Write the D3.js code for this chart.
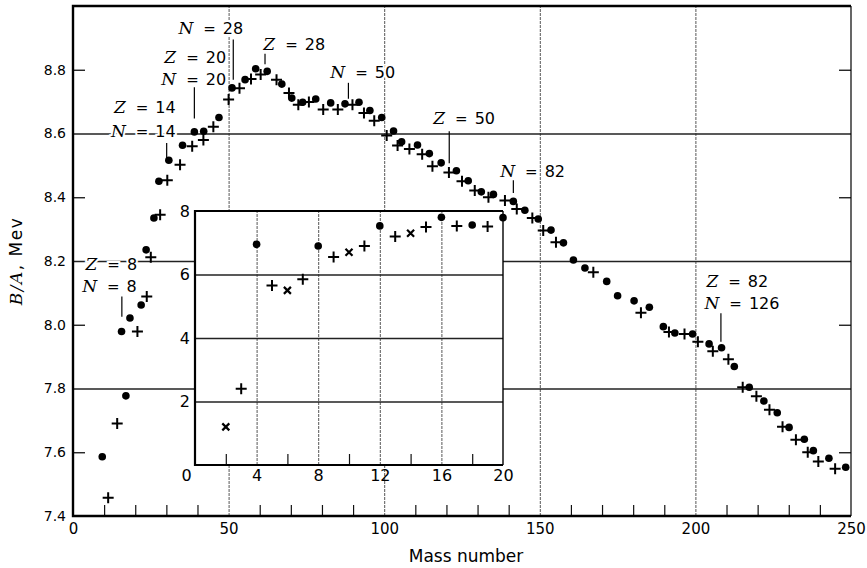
<!DOCTYPE html>
<html>
<head>
<meta charset="utf-8">
<script src="https://cdn.jsdelivr.net/npm/d3@7"></script>
<style>
body { margin: 0; background: #fff; }
svg { display: block; }
</style>
</head>
<body>
<svg id="chart"></svg>
<script>
// binding energy per nucleon
// even-even nuclei (dots)
var evenA = [9.4, 15.6, 17.0, 18.3, 21.9, 23.5, 26.0, 27.6, 30.8, 35.2, 39.0, 42.0, 46.9, 51.1, 55.3, 58.7, 62.4,
    67.1, 70.3, 73.8, 78.0, 82.8, 87.4, 91.9, 95.4, 99.2, 103.0, 105.6, 110.7, 114.5, 118.3, 123.2, 127.0,
    131.2, 135.1, 141.5, 145.2, 149.5, 153.6, 157.6, 160.8, 164.5, 171.5, 175.0, 180.3, 185.2, 189.7, 193.4,
    199.1, 204.4, 208.4, 212.5, 217.3, 222.0, 226.3, 230.1, 235.0, 237.9, 242.9, 248.3];
var evenBA = [7.586, 7.979, 7.777, 8.021, 8.062, 8.235, 8.335, 8.450, 8.516, 8.563, 8.605, 8.607, 8.650, 8.743,
    8.769, 8.803, 8.795, 8.755, 8.711, 8.698, 8.708, 8.696, 8.693, 8.698, 8.672, 8.650, 8.608, 8.574, 8.564,
    8.537, 8.508, 8.483, 8.452, 8.417, 8.409, 8.387, 8.359, 8.332, 8.297, 8.257, 8.203, 8.178, 8.136, 8.091,
    8.075, 8.055, 7.994, 7.974, 7.971, 7.940, 7.928, 7.869, 7.804, 7.761, 7.724, 7.678, 7.641, 7.605, 7.581,
    7.553];
// odd-A nuclei (crosses)
var oddA = [11.3, 14.2, 20.7, 23.7, 25.0, 28.0, 30.3, 34.4, 38.3, 41.9, 45.1, 50.0, 53.5, 57.2, 60.3, 65.4,
    69.4, 72.4, 75.8, 80.4, 85.1, 89.8, 93.5, 96.8, 100.8, 104.3, 108.1, 112.2, 115.5, 120.8, 125.0, 129.1,
    133.5, 138.8, 142.6, 147.6, 151.1, 155.2, 167.2, 182.5, 191.5, 196.5, 200.8, 205.6, 210.6, 215.2, 219.6,
    223.8, 228.0, 232.3, 236.1, 239.5, 244.9];
var oddBA = [7.457, 7.690, 7.979, 8.089, 8.212, 8.345, 8.453, 8.502, 8.560, 8.580, 8.621, 8.707, 8.742, 8.771,
    8.785, 8.769, 8.727, 8.690, 8.699, 8.675, 8.675, 8.690, 8.664, 8.640, 8.594, 8.562, 8.551, 8.535, 8.497,
    8.478, 8.450, 8.421, 8.400, 8.390, 8.363, 8.335, 8.296, 8.259, 8.165, 8.038, 7.977, 7.971, 7.947, 7.917,
    7.892, 7.804, 7.776, 7.733, 7.680, 7.639, 7.600, 7.571, 7.548];

// inset: the light nuclei
var insetDotA = [4, 8, 12, 16, 18, 20];
var insetDotBA = [6.95, 6.9, 7.53, 7.8, 7.56, 7.79];
var insetPlusA = [3, 5, 7, 9, 11, 13, 15, 17, 19];
var insetPlusBA = [2.4, 5.65, 5.85, 6.55, 6.9, 7.2, 7.5, 7.53, 7.51];
var insetCrossA = [2, 6, 10, 14];
var insetCrossBA = [1.2, 5.5, 6.7, 7.3];

// ticks
var xLabels = [0, 50, 100, 150, 200, 250];
var xGrid = [50, 100, 150, 200];
var xMinor = [10, 20, 30, 40, 60, 70, 80, 90, 110, 120, 130, 140, 160, 170, 180, 190, 210, 220, 230, 240];
var yLabels = [7.4, 7.6, 7.8, 8.0, 8.2, 8.4, 8.6, 8.8];
var yGrid = [7.8, 8.2, 8.6];
var yMinor = [7.6, 8.0, 8.4, 8.8];
var insetXLabels = [0, 4, 8, 12, 16, 20];
var insetXGrid = [4, 8, 12, 16];
var insetXMinor = [2, 6, 10, 14, 18];
var insetYLabels = [2, 4, 6, 8];
var insetYGrid = [2, 4, 6];

// shell closure notes: letter, number, text end (A, B/A)
var noteLetter = ["Z", "N", "Z", "N", "Z", "N", "N", "Z", "N", "Z", "N", "Z", "N"];
var noteNumber = ["8", "8", "14", "14", "20", "20", "28", "28", "50", "50", "82", "82", "126"];
var noteA = [20.6, 20.5, 33.0, 33.0, 49.2, 49.2, 54.7, 81.0, 103.5, 135.6, 158.1, 223.4, 227.0];
var noteBA = [8.172, 8.104, 8.664, 8.589, 8.821, 8.753, 8.913, 8.863, 8.774, 8.631, 8.463, 8.118, 8.049];
var leaderA = [15.7, 30.1, 39.0, 51.5, 61.7, 88.5, 120.9, 141.5, 208.2];
var leaderTop = [8.089, 8.570, 8.745, 8.895, 8.850, 8.759, 8.607, 8.453, 8.036];
var leaderBottom = [8.025, 8.518, 8.647, 8.769, 8.817, 8.709, 8.507, 8.413, 7.947];

var width = 867, height = 568;
var margin = {top: 6, right: 16, bottom: 52, left: 73};
var sansFont = "DejaVu Sans, Verdana, sans-serif";
var serifFont = "DejaVu Serif, serif";

var svg = d3.select("#chart").attr("width", width).attr("height", height);

var x = d3.scaleLinear().domain([0, 250]).range([margin.left, width - margin.right]);
var y = d3.scaleLinear().domain([7.4, 9.0]).range([height - margin.bottom, margin.top]);

function zip(a, b) {
    return a.map(function (d, i) { return [d, b[i]]; });
}

function plus(g, pts, sx, sy, s) {
    g.selectAll(null).data(pts).enter().append("path")
        .attr("d", function (d) {
            var cx = sx(d[0]), cy = sy(d[1]);
            return "M" + (cx - s) + "," + cy + "H" + (cx + s) + "M" + cx + "," + (cy - s) + "V" + (cy + s);
        })
        .attr("stroke", "#000").attr("stroke-width", 2).attr("fill", "none");
}

function dots(g, pts, sx, sy, r) {
    g.selectAll(null).data(pts).enter().append("circle")
        .attr("cx", function (d) { return sx(d[0]); })
        .attr("cy", function (d) { return sy(d[1]); })
        .attr("r", r).attr("fill", "#000");
}

function cleanAxis(g) {
    g.select(".domain").remove();
    g.selectAll("line").attr("stroke", "#111");
}

// main grid
svg.append("g")
    .attr("transform", "translate(0," + y.range()[0] + ")")
    .call(d3.axisBottom(x).tickValues(xGrid).tickSize(-(y.range()[0] - y.range()[1])).tickFormat(""))
    .call(cleanAxis)
    .selectAll("line").attr("stroke", "#444").attr("stroke-width", 0.9).attr("stroke-dasharray", "3,1");

svg.append("g")
    .attr("transform", "translate(" + x.range()[0] + ",0)")
    .call(d3.axisLeft(y).tickValues(yGrid).tickSize(-(x.range()[1] - x.range()[0])).tickFormat(""))
    .call(cleanAxis)
    .selectAll("line").attr("stroke", "#222").attr("stroke-width", 1.3);

// minor ticks, main
svg.append("g")
    .attr("transform", "translate(0," + y.range()[0] + ")")
    .call(d3.axisBottom(x).tickValues(xMinor).tickSize(-11).tickFormat(""))
    .call(cleanAxis)
    .selectAll("line").attr("stroke-width", 1.2);

svg.append("g")
    .attr("transform", "translate(" + x.range()[0] + ",0)")
    .call(d3.axisLeft(y).tickValues(yMinor).tickSize(-12).tickFormat(""))
    .call(cleanAxis)
    .selectAll("line").attr("stroke-width", 1.3);

svg.append("g")
    .attr("transform", "translate(" + x.range()[1] + ",0)")
    .call(d3.axisRight(y).tickValues(yMinor).tickSize(-12).tickFormat(""))
    .call(cleanAxis)
    .selectAll("line").attr("stroke-width", 1.3);

// notes
var notes = svg.append("g");
noteLetter.forEach(function (letter, i) {
    var t = notes.append("text")
        .attr("x", x(noteA[i]))
        .attr("y", y(noteBA[i]))
        .attr("text-anchor", "end")
        .attr("stroke", "#fff").attr("stroke-width", 4).attr("paint-order", "stroke")
        .attr("fill", "#000");
    t.append("tspan").text(letter)
        .attr("font-family", serifFont).attr("font-style", "italic").attr("font-size", "17px");
    t.append("tspan").text("=").attr("dx", 10)
        .attr("font-family", sansFont).attr("font-size", "15px");
    t.append("tspan").text(noteNumber[i]).attr("dx", 7)
        .attr("font-family", sansFont).attr("font-size", "16px");
});

notes.selectAll(null).data(leaderA).enter().append("line")
    .attr("x1", function (d) { return x(d); })
    .attr("x2", function (d) { return x(d); })
    .attr("y1", function (d, i) { return y(leaderTop[i]); })
    .attr("y2", function (d, i) { return y(leaderBottom[i]); })
    .attr("stroke", "#000").attr("stroke-width", 1.2);

// main data
var marks = svg.append("g");
dots(marks, zip(evenA, evenBA), x, y, 3.8);
plus(marks, zip(oddA, oddBA), x, y, 5.5);

// inset
var ix = d3.scaleLinear().domain([0, 20]).range([195, 503]);
var iy = d3.scaleLinear().domain([0, 8]).range([465, 211]);
var inset = svg.append("g");

inset.append("rect")
    .attr("x", ix.range()[0]).attr("y", iy.range()[1])
    .attr("width", ix.range()[1] - ix.range()[0])
    .attr("height", iy.range()[0] - iy.range()[1])
    .attr("fill", "#fff");

inset.append("g")
    .attr("transform", "translate(0," + iy.range()[0] + ")")
    .call(d3.axisBottom(ix).tickValues(insetXGrid).tickSize(-(iy.range()[0] - iy.range()[1])).tickFormat(""))
    .call(cleanAxis)
    .selectAll("line").attr("stroke", "#444").attr("stroke-width", 0.9).attr("stroke-dasharray", "3,1");

inset.append("g")
    .attr("transform", "translate(" + ix.range()[0] + ",0)")
    .call(d3.axisLeft(iy).tickValues(insetYGrid).tickSize(-(ix.range()[1] - ix.range()[0])).tickFormat(""))
    .call(cleanAxis)
    .selectAll("line").attr("stroke", "#222").attr("stroke-width", 1.3);

inset.append("g")
    .attr("transform", "translate(0," + iy.range()[0] + ")")
    .call(d3.axisBottom(ix).tickValues(insetXMinor).tickSize(-11).tickFormat(""))
    .call(cleanAxis)
    .selectAll("line").attr("stroke-width", 1.2);

dots(inset, zip(insetDotA, insetDotBA), ix, iy, 3.8);
plus(inset, zip(insetPlusA, insetPlusBA), ix, iy, 5.5);
inset.selectAll(null).data(zip(insetCrossA, insetCrossBA)).enter().append("path")
    .attr("d", function (d) {
        var cx = ix(d[0]), cy = iy(d[1]), s = 3.5;
        return "M" + (cx - s) + "," + (cy - s) + "L" + (cx + s) + "," + (cy + s) +
            "M" + (cx + s) + "," + (cy - s) + "L" + (cx - s) + "," + (cy + s);
    })
    .attr("stroke", "#000").attr("stroke-width", 2.2).attr("fill", "none");

var ixAxis = inset.append("g")
    .attr("transform", "translate(0," + iy.range()[0] + ")")
    .call(d3.axisBottom(ix).tickValues(insetXLabels).tickSize(0).tickPadding(5).tickFormat(d3.format("d")));
ixAxis.select(".domain").remove();
ixAxis.selectAll("text").attr("font-family", sansFont).attr("font-size", "16px").attr("fill", "#000");
ixAxis.selectAll("text").filter(function (d) { return d === 0; }).attr("dx", -9);

var iyAxis = inset.append("g")
    .attr("transform", "translate(" + ix.range()[0] + ",0)")
    .call(d3.axisLeft(iy).tickValues(insetYLabels).tickSize(0).tickPadding(5).tickFormat(d3.format("d")));
iyAxis.select(".domain").remove();
iyAxis.selectAll("text").attr("font-family", sansFont).attr("font-size", "16px").attr("fill", "#000");

// inset frame
inset.append("path")
    .attr("d", "M" + ix.range()[1] + "," + iy.range()[1] + "H" + ix.range()[0] + "V" + iy.range()[0] + "H" + ix.range()[1])
    .attr("fill", "none").attr("stroke", "#000").attr("stroke-width", 2.2);
inset.append("line")
    .attr("x1", ix.range()[1]).attr("x2", ix.range()[1])
    .attr("y1", iy.range()[1]).attr("y2", iy.range()[0])
    .attr("stroke", "#000").attr("stroke-width", 1.4);

// main axes and frame
var xAxis = svg.append("g")
    .attr("transform", "translate(0," + y.range()[0] + ")")
    .call(d3.axisBottom(x).tickValues(xLabels).tickSize(0).tickPadding(7).tickFormat(d3.format("d")));
xAxis.select(".domain").remove();
xAxis.selectAll("text").attr("font-family", sansFont).attr("font-size", "15px").attr("fill", "#000");

var yAxis = svg.append("g")
    .attr("transform", "translate(" + x.range()[0] + ",0)")
    .call(d3.axisLeft(y).tickValues(yLabels).tickSize(0).tickPadding(7).tickFormat(d3.format(".1f")));
yAxis.select(".domain").remove();
yAxis.selectAll("text").attr("font-family", sansFont).attr("font-size", "14px").attr("fill", "#000");

svg.append("path")
    .attr("d", "M" + x.range()[1] + "," + y.range()[1] + "H" + x.range()[0] + "V" + y.range()[0] + "H" + x.range()[1])
    .attr("fill", "none").attr("stroke", "#000").attr("stroke-width", 2.4);
svg.append("line")
    .attr("x1", x.range()[1]).attr("x2", x.range()[1])
    .attr("y1", y.range()[1]).attr("y2", y.range()[0])
    .attr("stroke", "#000").attr("stroke-width", 1.2);

// axis titles
svg.append("text")
    .attr("x", (x.range()[0] + x.range()[1]) / 2 + 4)
    .attr("y", 562)
    .attr("text-anchor", "middle")
    .attr("font-family", sansFont).attr("font-size", "17px")
    .text("Mass number");

var yTitle = svg.append("text")
    .attr("transform", "translate(22,261)rotate(-90)")
    .attr("text-anchor", "middle")
    .attr("font-size", "17px")
    .attr("letter-spacing", "1.5px");
yTitle.append("tspan").text("B/A").attr("font-family", serifFont).attr("font-style", "italic");
yTitle.append("tspan").text(", Mev").attr("font-family", sansFont);
</script>
</body>
</html>
